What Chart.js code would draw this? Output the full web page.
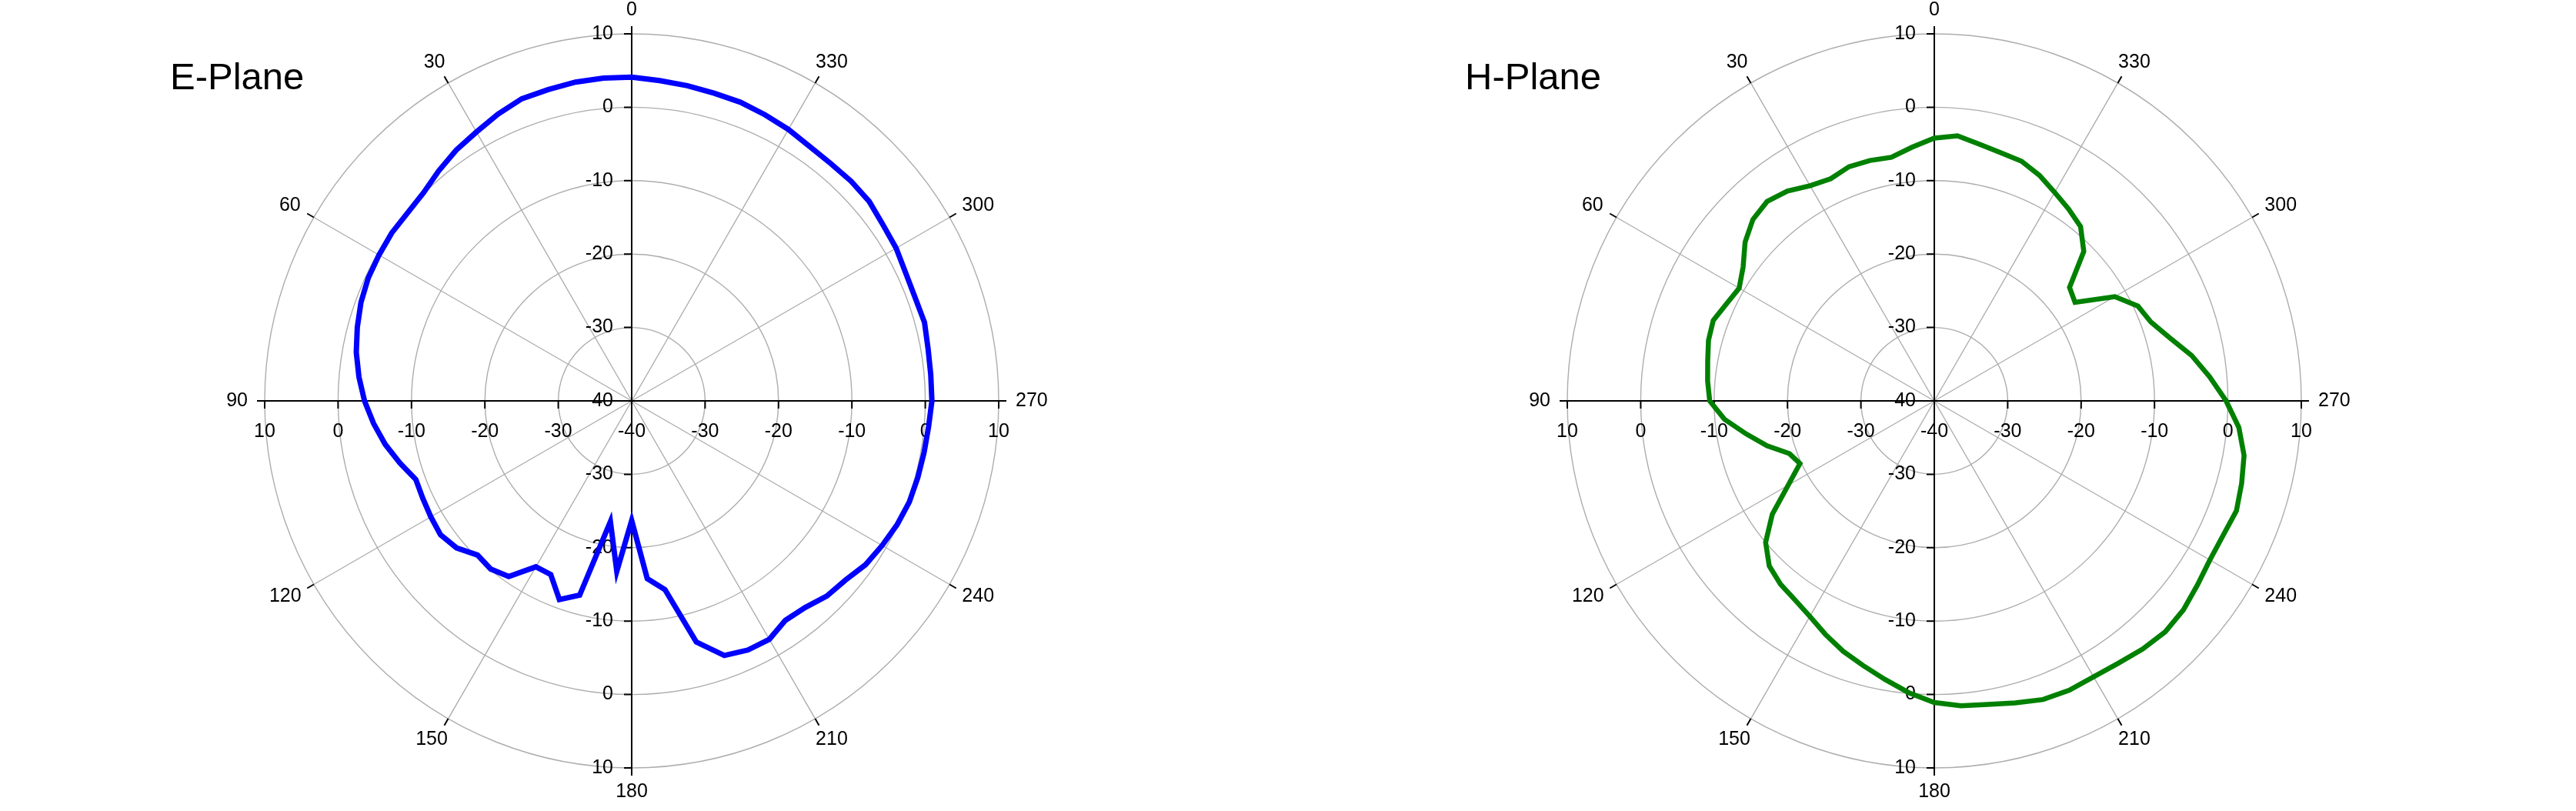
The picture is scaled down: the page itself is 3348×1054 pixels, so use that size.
<!DOCTYPE html>
<html>
<head>
<meta charset="utf-8">
<script src="https://cdn.jsdelivr.net/npm/chart.js@4.4.1/dist/chart.umd.min.js"></script>
<style>
  html, body { margin: 0; padding: 0; background: #fff; }
  body { width: 3348px; height: 1054px; position: relative; overflow: hidden; font-family: "Liberation Sans", Arial, sans-serif; }
  .panel { position: absolute; top: 0; width: 1674px; height: 1054px; }
  .titre { position: absolute; font-size: 49px; line-height: 49px; color: #000; white-space: nowrap; }
</style>
</head>
<body>
<div class="panel" style="left:0"><canvas id="ePlaneChart" width="1674" height="1054"></canvas></div>
<div class="panel" style="left:1674px"><canvas id="hPlaneChart" width="1674" height="1054"></canvas></div>
<div class="titre" style="left:221px;top:75px">E-Plane</div>
<div class="titre" style="left:1904px;top:75px">H-Plane</div>
<script>
// Angles mesurés (degrés, sens trigo depuis le haut)
const angles = [0, 5, 10, 15, 20, 25, 30, 35, 40, 45, 50, 55, 60, 65, 70, 75, 80, 85,
  90, 95, 100, 105, 110, 115, 120, 125, 130, 135, 140, 145, 150, 155, 160, 165, 170, 175,
  180, 185, 190, 195, 200, 205, 210, 215, 220, 225, 230, 235, 240, 245, 250, 255, 260, 265,
  270, 275, 280, 285, 290, 295, 300, 305, 310, 315, 320, 325, 330, 335, 340, 345, 350, 355];

// Gain E-plane (dB)
const ePlaneDb = [4.1, 4.15, 4.1, 3.9, 3.8, 3.1, 2.3, 1.7, 0.9, 0.1, -0.15, -0.1, -0.25, -0.4, -0.75, -1.3, -1.9, -2.7,
  -3.6, -4.7, -5.9, -7.3, -8.7, -8.6, -8.4, -8.2, -8.85, -10.3, -10.1, -10.8, -13.9, -13.9, -11.2, -12.6, -23.3, -16.7,
  -23.7, -15.7, -13.9, -6.0, -3.1, -2.55, -2.5, -3.5, -3.25, -2.4, -2.0, -1.1, -0.6, -0.1, 0.25, 0.35, 0.45, 0.6,
  0.9, 0.9, 1.0, 1.3, 1.1, 1.2, 1.6, 1.8, 2.25, 2.3, 2.2, 2.3, 2.7, 3.0, 3.3, 3.4, 3.6, 3.8];

// Gain H-plane (dB)
const hPlaneDb = [-4.2, -5.3, -6.3, -6.1, -6.05, -6.6, -6.15, -5.1, -4.55, -5.05, -6.35, -8.2, -9.3, -8.75, -7.95, -8.15, -8.65, -9.0,
  -9.4, -11.3, -14.0, -16.4, -19.0, -19.8, -17.0, -13.05, -10.0, -8.2, -7.4, -6.9, -6.1, -4.9, -3.7, -2.65, -1.45, -0.1,
  1.1, 1.7, 2.0, 2.6, 3.3, 3.5, 3.4, 3.65, 4.15, 4.5, 4.3, 3.75, 3.35, 3.4, 3.8, 3.35, 2.85, 1.65,
  -0.25, -2.35, -4.4, -6.8, -8.6, -9.4, -11.6, -16.6, -15.95, -11.2, -9.0, -8.1, -7.2, -6.1, -5.25, -5.0, -4.5, -3.75];

// Graduations radiales (dB)
const ringTicks = [-40, -30, -20, -10, 0, 10];
const labelFont = '25px "Liberation Sans", Arial, sans-serif';

// Le radar tourne en sens horaire : on inverse l'ordre des angles
const ordre = angles.map((a, k) => (k === 0 ? 0 : angles.length - k));
const radarLabels = ordre.map(i => angles[i]);

// Axes noirs, graduations et libellés
const axesPolaires = {
  id: 'axesPolaires',
  beforeDatasetsDraw(chart) {
    const s = chart.scales.r;
    const ctx = chart.ctx;
    const cx = s.xCenter, cy = s.yCenter;
    const R = s.getDistanceFromCenterForValue(s.max);
    ctx.save();
    ctx.strokeStyle = '#000';
    ctx.lineWidth = 2;
    ctx.beginPath();
    ctx.moveTo(cx - R - 10, cy); ctx.lineTo(cx + R + 10, cy);
    ctx.moveTo(cx, cy - R - 10); ctx.lineTo(cx, cy + R + 10);
    ringTicks.forEach(v => {
      const d = s.getDistanceFromCenterForValue(v);
      if (d === 0) return;
      ctx.moveTo(cx - 10, cy - d); ctx.lineTo(cx, cy - d);
      ctx.moveTo(cx - 10, cy + d); ctx.lineTo(cx, cy + d);
      ctx.moveTo(cx - d, cy); ctx.lineTo(cx - d, cy + 10);
      ctx.moveTo(cx + d, cy); ctx.lineTo(cx + d, cy + 10);
    });
    radarLabels.forEach((a, i) => {
      if (a % 30 !== 0 || a % 90 === 0) return;
      const p1 = s.getPointPosition(i, R);
      const p2 = s.getPointPosition(i, R + 10);
      ctx.moveTo(p1.x, p1.y); ctx.lineTo(p2.x, p2.y);
    });
    ctx.stroke();

    ctx.fillStyle = '#000';
    ctx.font = labelFont;
    ctx.textBaseline = 'middle';
    ctx.textAlign = 'right';
    ringTicks.forEach(v => {
      const d = s.getDistanceFromCenterForValue(v);
      ctx.fillText(String(v), cx - 24, cy - d);
      if (d > 0) ctx.fillText(String(v), cx - 24, cy + d);
    });
    ctx.textAlign = 'center';
    ringTicks.forEach(v => {
      const d = s.getDistanceFromCenterForValue(v);
      ctx.fillText(String(v), cx - d, cy + 40);
      if (d > 0) ctx.fillText(String(v), cx + d, cy + 40);
    });
    radarLabels.forEach((a, i) => {
      if (a % 30 !== 0) return;
      const txt = String(a);
      const w = ctx.measureText(txt).width;
      const ang = s.getIndexAngle(i) - Math.PI / 2;
      const p = s.getPointPosition(i, R + 22);
      ctx.fillText(txt, p.x + Math.cos(ang) * w / 2, p.y + Math.sin(ang) * 9);
    });
    ctx.restore();
  }
};

function showPolarChart(canvasId, values, color, lineWidth, padding) {
  const ctx = document.getElementById(canvasId).getContext('2d');
  return new Chart(ctx, {
    type: 'radar',
    data: {
      labels: radarLabels,
      datasets: [{
        data: ordre.map(i => values[i]),
        borderColor: color,
        backgroundColor: 'transparent',
        borderWidth: lineWidth,
        pointRadius: 0,
        pointHoverRadius: 0,
        fill: false,
        tension: 0
      }]
    },
    options: {
      responsive: false,
      animation: false,
      devicePixelRatio: 1,
      layout: { padding: padding },
      plugins: { legend: { display: false }, tooltip: { enabled: false } },
      scales: {
        r: {
          min: -40,
          max: 10,
          ticks: { display: false, stepSize: 10 },
          pointLabels: { display: false },
          grid: { circular: true, color: '#adadad', lineWidth: 1.4 },
          angleLines: {
            color: '#adadad',
            lineWidth: c => {
              const a = radarLabels[c.index];
              return (a % 30 === 0 && a % 90 !== 0) ? 1.4 : 0;
            }
          }
        }
      }
    },
    plugins: [axesPolaires]
  });
}

showPolarChart('ePlaneChart', ePlaneDb, '#0000ff', 7, { left: 344, right: 376, top: 44, bottom: 56 });
showPolarChart('hPlaneChart', hPlaneDb, '#008000', 6.5, { left: 363, right: 357, top: 44, bottom: 56 });
</script>
</body>
</html>
